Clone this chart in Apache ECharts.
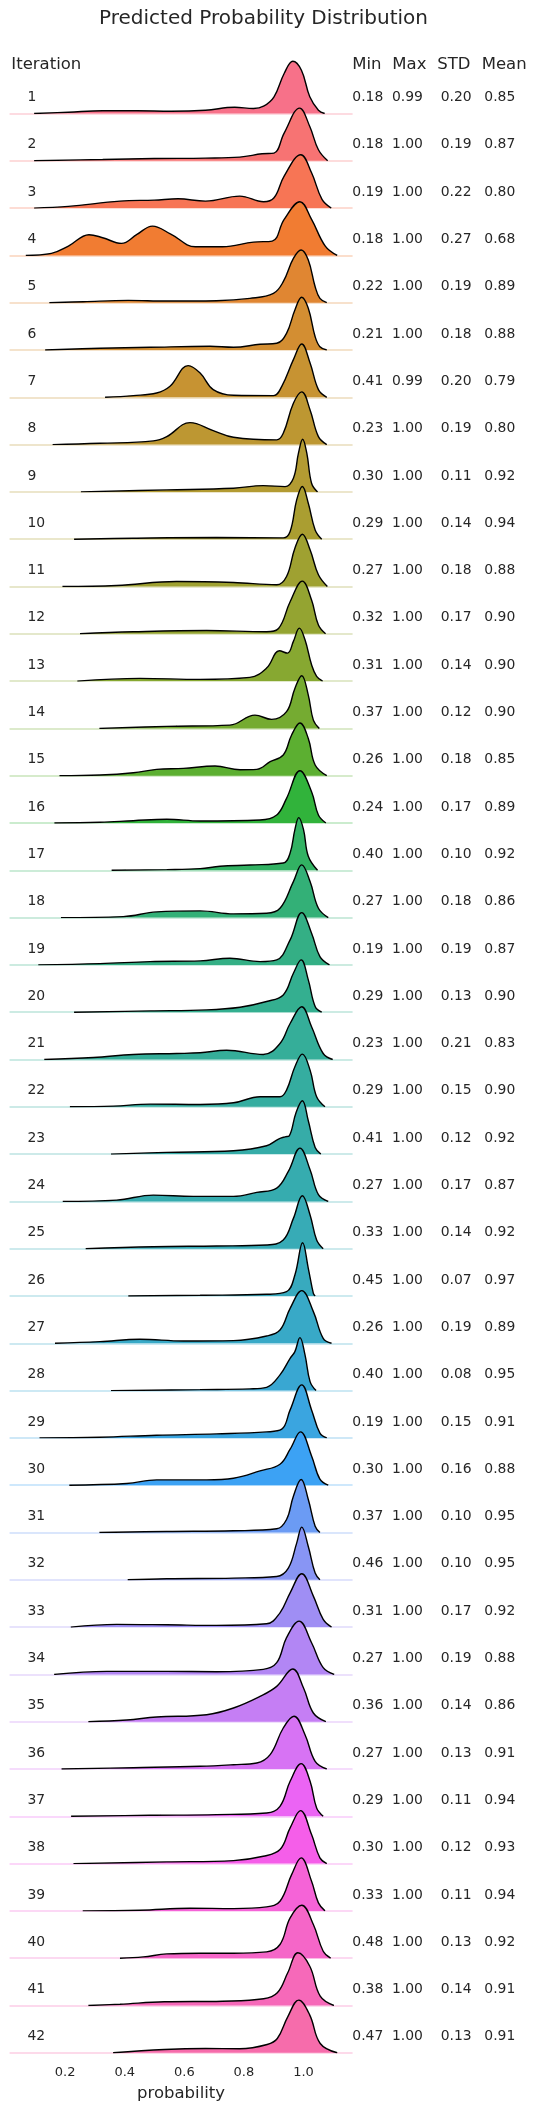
<!DOCTYPE html>
<html>
<head>
<meta charset="utf-8">
<title>Predicted Probability Distribution</title>
<script src="https://cdn.jsdelivr.net/npm/echarts@6.0.0/dist/echarts.min.js"></script>
<style>
  html, body { margin: 0; padding: 0; background: #fff; }
  #main { width: 537px; height: 2111px; }
</style>
</head>
<body>
<div id="main"></div>
<script>
// row labels and summary stats per iteration
var iterations = [1, 2, 3, 4, 5, 6, 7, 8, 9, 10, 11, 12, 13, 14, 15, 16, 17, 18, 19, 20, 21,
  22, 23, 24, 25, 26, 27, 28, 29, 30, 31, 32, 33, 34, 35, 36, 37, 38, 39, 40, 41, 42];
var mins = [0.18, 0.18, 0.19, 0.18, 0.22, 0.21, 0.41, 0.23, 0.30, 0.29, 0.27, 0.32, 0.31, 0.37,
  0.26, 0.24, 0.40, 0.27, 0.19, 0.29, 0.23, 0.29, 0.41, 0.27, 0.33, 0.45, 0.26, 0.40,
  0.19, 0.30, 0.37, 0.46, 0.31, 0.27, 0.36, 0.27, 0.29, 0.30, 0.33, 0.48, 0.38, 0.47];
var maxs = [0.99, 1.00, 1.00, 1.00, 1.00, 1.00, 0.99, 1.00, 1.00, 1.00, 1.00, 1.00, 1.00, 1.00,
  1.00, 1.00, 1.00, 1.00, 1.00, 1.00, 1.00, 1.00, 1.00, 1.00, 1.00, 1.00, 1.00, 1.00,
  1.00, 1.00, 1.00, 1.00, 1.00, 1.00, 1.00, 1.00, 1.00, 1.00, 1.00, 1.00, 1.00, 1.00];
var stds = [0.20, 0.19, 0.22, 0.27, 0.19, 0.18, 0.20, 0.19, 0.11, 0.14, 0.18, 0.17, 0.14, 0.12,
  0.18, 0.17, 0.10, 0.18, 0.19, 0.13, 0.21, 0.15, 0.12, 0.17, 0.14, 0.07, 0.19, 0.08,
  0.15, 0.16, 0.10, 0.10, 0.17, 0.19, 0.14, 0.13, 0.11, 0.12, 0.11, 0.13, 0.14, 0.13];
var means = [0.85, 0.87, 0.80, 0.68, 0.89, 0.88, 0.79, 0.80, 0.92, 0.94, 0.88, 0.90, 0.90, 0.90,
  0.85, 0.89, 0.92, 0.86, 0.87, 0.90, 0.83, 0.90, 0.92, 0.87, 0.92, 0.97, 0.89, 0.95,
  0.91, 0.88, 0.95, 0.95, 0.92, 0.88, 0.86, 0.91, 0.94, 0.93, 0.94, 0.92, 0.91, 0.91];
var xTicks = [0.2, 0.4, 0.6, 0.8, 1.0];

// density curves, [probability, density]
var curves = [
  [[0.096,0],[0.211,1.3],[0.326,2.7],[0.441,2.7],[0.556,2.3],[0.671,3.3],[0.769,6.3],[0.832,5],[0.866,7.3],[0.901,16.7],[0.935,40],[0.964,52.3],[0.993,43.3],[1.021,16.7],[1.050,3.3],[1.071,0]],
  [[0.096,0],[0.326,1.3],[0.499,2.3],[0.671,2.7],[0.786,3.7],[0.861,7],[0.901,7.7],[0.935,27.7],[0.987,52.7],[1.021,34.3],[1.050,11],[1.081,0]],
  [[0.096,0],[0.211,1.7],[0.384,7],[0.499,8],[0.579,9.3],[0.671,7],[0.786,12],[0.866,6.3],[0.901,10.3],[0.935,32],[0.991,53.3],[1.027,35.3],[1.062,8.7],[1.093,0]],
  [[0.068,0],[0.154,2],[0.211,9.3],[0.280,20.7],[0.326,17.7],[0.389,12],[0.441,21],[0.493,29.3],[0.556,21],[0.637,8.7],[0.728,8.7],[0.832,13.3],[0.895,14.3],[0.935,36],[0.988,53.7],[1.027,36],[1.073,9.3],[1.113,0]],
  [[0.147,0],[0.261,1],[0.412,2.3],[0.541,1.7],[0.708,2],[0.820,4.3],[0.899,9.3],[0.932,21],[0.966,44.3],[0.992,52.7],[1.016,42.7],[1.039,16],[1.055,4.3],[1.078,0]],
  [[0.133,0],[0.317,1.7],[0.485,2.7],[0.686,3.7],[0.765,2.7],[0.854,5.7],[0.910,6.7],[0.943,16.7],[0.971,40],[0.994,52.7],[1.016,41.7],[1.039,13.3],[1.055,3.3],[1.078,0]],
  [[0.334,0],[0.429,1.7],[0.507,4.3],[0.552,11],[0.613,31.7],[0.653,24.3],[0.697,7.7],[0.765,2],[0.899,1.7],[0.927,11],[0.966,37.7],[0.994,53.3],[1.022,34.3],[1.050,7.7],[1.078,0]],
  [[0.158,0],[0.317,1.3],[0.496,3.7],[0.541,8],[0.619,22],[0.697,14],[0.765,7.3],[0.910,4.7],[0.932,11.3],[0.966,41.3],[0.994,52.7],[1.022,34.7],[1.050,8],[1.078,0]],
  [[0.253,0],[0.541,2],[0.765,3.7],[0.865,6.3],[0.938,5.3],[0.966,13.7],[0.983,38.7],[0.997,52.7],[1.011,38.7],[1.027,8.7],[1.047,0]],
  [[0.230,0],[0.429,1],[0.708,1.7],[0.932,1.3],[0.955,7.7],[0.977,39.3],[0.996,52.7],[1.016,36],[1.039,9.3],[1.061,0]],
  [[0.191,0],[0.373,1],[0.574,5],[0.765,4],[0.910,1.7],[0.943,10],[0.971,38.3],[0.996,52.3],[1.022,36.7],[1.050,11.7],[1.080,0]],
  [[0.250,0],[0.429,2],[0.675,3.3],[0.876,2],[0.916,5.3],[0.955,32],[0.996,52.7],[1.027,33.7],[1.050,8.7],[1.074,0]],
  [[0.241,0],[0.451,2.7],[0.653,1.7],[0.820,3.7],[0.876,13],[0.919,30.3],[0.946,28],[0.966,39.7],[0.986,53],[1.005,41.3],[1.027,16.3],[1.044,4.7],[1.064,0]],
  [[0.315,0],[0.541,2],[0.753,3.3],[0.837,13.3],[0.893,9],[0.943,16.7],[0.971,40],[0.994,52.7],[1.016,33.3],[1.033,8.3],[1.053,0]],
  [[0.181,0],[0.317,0.7],[0.429,3],[0.507,6.3],[0.597,7.3],[0.703,9.7],[0.787,6],[0.843,6.3],[0.888,14],[0.932,20.7],[0.960,40.7],[0.988,52.7],[1.016,37.3],[1.039,10.7],[1.078,0]],
  [[0.164,0],[0.317,0.7],[0.429,2.3],[0.541,3.7],[0.653,2],[0.854,3],[0.910,8],[0.943,24.7],[0.988,52.3],[1.027,31.3],[1.050,8],[1.075,0]],
  [[0.356,0],[0.541,0.7],[0.653,1.7],[0.720,4],[0.820,5.3],[0.932,7.3],[0.955,17.3],[0.971,40.7],[0.984,52.7],[1.000,40.7],[1.016,14],[1.047,0]],
  [[0.186,0],[0.395,1],[0.507,5.7],[0.653,6.7],[0.765,3.7],[0.876,4.3],[0.921,9.3],[0.966,36],[0.994,52.7],[1.022,36],[1.050,9.3],[1.083,0]],
  [[0.110,0],[0.317,1.3],[0.485,3.3],[0.653,4],[0.753,6.7],[0.854,3.3],[0.910,5],[0.955,25],[0.994,52.3],[1.027,31.7],[1.055,8.3],[1.087,0]],
  [[0.230,0],[0.485,1.3],[0.675,2.3],[0.787,5],[0.876,10.7],[0.932,17.3],[0.966,39],[0.992,52.3],[1.016,32.3],[1.039,5.7],[1.061,0]],
  [[0.130,0],[0.295,2],[0.429,5],[0.574,6],[0.653,6.7],[0.742,9.3],[0.865,5],[0.921,16],[0.955,36],[0.994,52.7],[1.027,32.7],[1.066,6],[1.098,0]],
  [[0.216,0],[0.362,0.7],[0.485,2.7],[0.653,2.3],[0.765,4],[0.854,10],[0.921,10],[0.943,16.7],[0.971,40],[0.996,52.7],[1.022,36.7],[1.044,10],[1.072,0]],
  [[0.354,0],[0.541,1.7],[0.765,3.3],[0.876,8.3],[0.916,15],[0.938,17.3],[0.952,18.3],[0.975,41.7],[0.996,53.3],[1.016,33.3],[1.039,6.7],[1.058,0]],
  [[0.192,0],[0.373,1.3],[0.496,6.3],[0.630,5],[0.765,5],[0.843,9],[0.910,13.3],[0.949,30],[0.988,53.3],[1.022,31.7],[1.050,6.7],[1.083,0]],
  [[0.269,0],[0.496,2],[0.708,2.7],[0.876,3.7],[0.932,8.7],[0.966,30.3],[0.996,53],[1.022,33.7],[1.044,8.7],[1.066,0]],
  [[0.412,0],[0.653,0.7],[0.876,1.7],[0.943,4.3],[0.971,21],[0.997,53.3],[1.016,27.7],[1.033,2.7],[1.039,0]],
  [[0.166,0],[0.317,1.7],[0.451,4],[0.597,2.3],[0.765,2.7],[0.876,7.3],[0.921,13.3],[0.955,35],[0.994,52.7],[1.033,31.7],[1.066,5],[1.094,0]],
  [[0.354,0],[0.653,1],[0.820,1.7],[0.876,3.3],[0.921,15.7],[0.955,32.3],[0.971,39],[0.988,53],[1.005,35.7],[1.022,9],[1.042,0]],
  [[0.114,0],[0.317,0.7],[0.507,2.7],[0.708,4],[0.876,6],[0.927,8.7],[0.955,28],[0.994,53],[1.027,28],[1.055,4.7],[1.078,0]],
  [[0.214,0],[0.407,1.7],[0.507,5.3],[0.675,5.3],[0.765,7],[0.854,14.3],[0.921,21],[0.955,36],[0.990,53.3],[1.027,29.3],[1.055,6],[1.083,0]],
  [[0.315,0],[0.541,1],[0.765,1.7],[0.910,3.7],[0.943,13],[0.966,36.3],[0.992,53],[1.016,33],[1.039,6.3],[1.055,0]],
  [[0.410,0],[0.541,1],[0.765,1.7],[0.910,3.3],[0.949,11.7],[0.977,36.7],[0.994,52.7],[1.016,33.3],[1.039,6.7],[1.055,0]],
  [[0.219,0],[0.373,2.7],[0.541,2.3],[0.708,1.7],[0.876,3.3],[0.921,14.3],[0.955,34.3],[0.994,53.3],[1.033,31],[1.066,7.7],[1.094,0]],
  [[0.163,0],[0.340,3],[0.541,3],[0.708,2.7],[0.865,5],[0.910,11.7],[0.943,36.7],[0.985,53.3],[1.027,31.7],[1.066,6.7],[1.103,0]],
  [[0.278,0],[0.407,1.7],[0.507,4.7],[0.675,7],[0.765,13.7],[0.854,25.3],[0.910,35.3],[0.964,52.7],[1.000,33.7],[1.033,8.7],[1.075,0]],
  [[0.188,0],[0.429,1.3],[0.653,2.7],[0.765,4.3],[0.843,6],[0.888,14.3],[0.932,41],[0.968,52.7],[1.005,34.3],[1.039,7.7],[1.078,0]],
  [[0.220,0],[0.485,1],[0.708,1.7],[0.876,3.3],[0.921,10],[0.955,35],[0.992,52.7],[1.022,35],[1.044,8.3],[1.066,0]],
  [[0.228,0],[0.541,1.7],[0.765,3],[0.865,7.3],[0.921,14],[0.955,35.7],[0.990,53],[1.027,29],[1.055,5.7],[1.078,0]],
  [[0.259,0],[0.451,0.7],[0.619,2.7],[0.765,2.3],[0.876,4],[0.921,9.7],[0.960,36.3],[0.992,53],[1.027,29.7],[1.050,8],[1.072,0]],
  [[0.384,0],[0.462,1.3],[0.541,4.3],[0.653,5],[0.765,5],[0.876,6.3],[0.921,13.7],[0.955,40.3],[0.994,53],[1.033,33.7],[1.066,7],[1.091,0]],
  [[0.278,0],[0.384,1.3],[0.533,3.7],[0.728,4.3],[0.866,6.7],[0.912,12.7],[0.947,32.7],[0.981,52.7],[1.021,39.3],[1.056,9.3],[1.102,0]],
  [[0.361,0],[0.533,3.3],[0.671,4.3],[0.786,4],[0.878,8.3],[0.912,14.3],[0.947,36],[0.984,52.7],[1.021,37.7],[1.056,9.3],[1.113,0]]
];

// layout
var ROW0 = 113.5, STEP = 47.3;       // baseline of first row, row spacing
var GRID_LEFT = 10.3, GRID_W = 341.5, GRID_H = 60, Y_MAX = 60;
var X_MIN = 0.016, X_MAX = 1.162;
var TEXT = '#262626', FONT = 'DejaVu Sans';
var statCols = [352.3, 392, 440.7, 484.3];
var PALETTE_SIZE = 43;   // hue steps of the husl palette

// husl palette (same as seaborn "husl")
var M = [[3.2406, -1.5372, -0.4986], [-0.9689, 1.8758, 0.0415], [0.0557, -0.2040, 1.0570]];
function maxChroma(L, H) {
  var hrad = H / 180 * Math.PI, sinH = Math.sin(hrad), cosH = Math.cos(hrad);
  var sub1 = Math.pow(L + 16, 3) / 1560896;
  var sub2 = sub1 > 0.008856 ? sub1 : L / 903.3;
  var result = Infinity;
  M.forEach(function (r) {
    var top = (0.99915 * r[0] + 1.05122 * r[1] + 1.14460 * r[2]) * sub2;
    var rb = 0.86330 * r[2] - 0.17266 * r[1];
    var lb = 0.12949 * r[2] - 0.38848 * r[0];
    var bottom = (rb * sinH + lb * cosH) * sub2;
    [0, 1].forEach(function (t) {
      var C = L * (top - 1.05122 * t) / (bottom + 0.17266 * sinH * t);
      if (C > 0 && C < result) result = C;
    });
  });
  return result;
}
function huslToHex(H, S, L) {
  var C = maxChroma(L, H) / 100 * S;
  var hrad = H / 180 * Math.PI;
  var U = Math.cos(hrad) * C, V = Math.sin(hrad) * C;
  var t = (L + 16) / 116;
  var varY = Math.pow(t, 3) > 0.008856 ? Math.pow(t, 3) : (116 * t - 16) / 903.3;
  var varU = U / (13 * L) + 0.19784, varV = V / (13 * L) + 0.46834;
  var Y = varY;
  var X = -(9 * Y * varU) / ((varU - 4) * varV - varU * varV);
  var Z = (9 * Y - 15 * varV * Y - varV * X) / (3 * varV);
  return '#' + M.map(function (r) {
    var c = r[0] * X + r[1] * Y + r[2] * Z;
    c = c <= 0.0031308 ? 12.92 * c : 1.055 * Math.pow(c, 1 / 2.4) - 0.055;
    c = Math.max(0, Math.min(1, c));
    return ('0' + Math.round(c * 255).toString(16)).slice(-2);
  }).join('');
}
var colors = curves.map(function (c, i) {
  var h = ((i / PALETTE_SIZE + 0.01) % 1) * 359;
  return huslToHex(h, 0.9 * 99, 0.65 * 99);
});
function tint(hex, a) {
  var n = parseInt(hex.slice(1), 16);
  return 'rgba(' + (n >> 16) + ',' + ((n >> 8) & 255) + ',' + (n & 255) + ',' + a + ')';
}

var grids = [], xAxes = [], yAxes = [], series = [], graphics = [];

graphics.push({ type: 'text', x: 263.5, y: 18.5, z: 100,
  style: { text: 'Predicted Probability Distribution', fontSize: 20, fontFamily: FONT,
    fill: TEXT, align: 'center', verticalAlign: 'middle' } });
var headers = ['Min', 'Max', 'STD', 'Mean'];
var headerX = [352.3, 392.3, 437.3, 481.7];
graphics.push({ type: 'text', x: 11.3, y: 64.5, z: 100,
  style: { text: 'Iteration', fontSize: 16.5, fontFamily: FONT, fill: TEXT,
    align: 'left', verticalAlign: 'middle' } });
headers.forEach(function (h, k) {
  graphics.push({ type: 'text', x: headerX[k], y: 64.5, z: 100,
    style: { text: h, fontSize: 16.5, fontFamily: FONT, fill: TEXT,
      align: 'left', verticalAlign: 'middle' } });
});

curves.forEach(function (pts, i) {
  var base = ROW0 + i * STEP;
  var last = i === curves.length - 1;
  grids.push({ left: GRID_LEFT, top: base - GRID_H, width: GRID_W, height: GRID_H });
  xAxes.push({
    gridIndex: i, type: 'value', min: X_MIN, max: X_MAX, z: 0,
    axisLine: { show: true, onZero: true, lineStyle: { color: tint(colors[i], 0.25), width: 2 } },
    axisTick: { show: false },
    splitLine: { show: false },
    axisLabel: last ? {
      show: true, customValues: xTicks, margin: 13, fontSize: 13, fontFamily: FONT, color: TEXT,
      formatter: function (v) { return v.toFixed(1); }
    } : { show: false },
    name: last ? 'probability' : '',
    nameLocation: 'middle', nameGap: 32,
    nameTextStyle: { fontSize: 16.5, fontFamily: FONT, color: TEXT }
  });
  yAxes.push({ gridIndex: i, type: 'value', min: 0, max: Y_MAX, show: false });
  series.push({
    type: 'line', xAxisIndex: i, yAxisIndex: i, data: pts,
    smooth: 0.4, symbol: 'none', silent: true, z: 10 + i,
    lineStyle: { color: '#000', width: 1.4 },
    areaStyle: { color: colors[i], opacity: 1 }
  });

  var ty = base - 16;
  graphics.push({ type: 'text', x: 27.5, y: ty, z: 100,
    style: { text: String(iterations[i]), fontSize: 13.9, fontFamily: FONT, fill: TEXT,
      align: 'left', verticalAlign: 'middle' } });
  [mins[i], maxs[i], stds[i], means[i]].forEach(function (v, k) {
    graphics.push({ type: 'text', x: statCols[k], y: ty, z: 100,
      style: { text: v.toFixed(2), fontSize: 13.9, fontFamily: FONT, fill: TEXT,
        align: 'left', verticalAlign: 'middle' } });
  });
});

var chart = echarts.init(document.getElementById('main'));
chart.setOption({
  backgroundColor: '#fff',
  animation: false,
  grid: grids,
  xAxis: xAxes,
  yAxis: yAxes,
  series: series,
  graphic: graphics
});
</script>
</body>
</html>
